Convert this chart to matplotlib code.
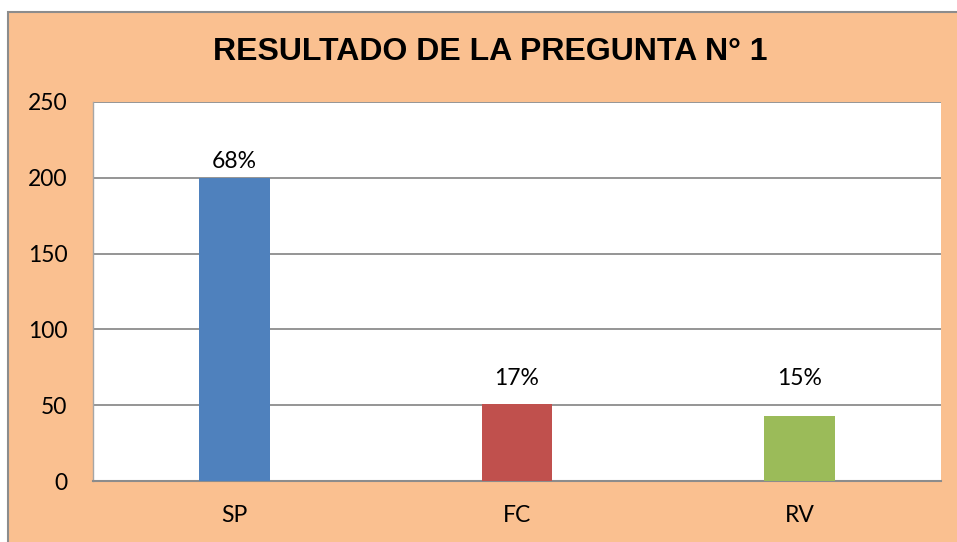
import matplotlib
matplotlib.use("Agg")
import matplotlib.pyplot as plt
from matplotlib.patches import Rectangle

categories = ["SP", "FC", "RV"]
values = [200, 51, 43]
labels = ["68%", "17%", "15%"]
colors = ["#4F81BD", "#C0504D", "#9BBB59"]
yticks = [0, 50, 100, 150, 200, 250]

W, H = 957, 542
fig = plt.figure(figsize=(W / 100, H / 100), dpi=100)
fig.patch.set_facecolor("white")

# chart area (peach) with gray border
fig.patches.append(Rectangle((8 / W, -0.05), 1.1, (H - 12) / H + 0.05,
                             transform=fig.transFigure, facecolor="#FAC090",
                             edgecolor="#8C8C8C", linewidth=1.5, zorder=-5))

ax = fig.add_axes([93 / W, 1 - 481 / H, (941 - 93) / W, (481 - 102) / H])
ax.set_zorder(2)
ax.set_facecolor("white")
x = range(len(categories))
ax.bar(x, values, width=0.25, color=colors, zorder=3)
for xi, v, lab in zip(x, values, labels):
    ax.text(xi, max(v, 57) + 4, lab, ha="center", va="bottom", fontsize=16.5,
            family="Lato", color="black")

ax.set_xlim(-0.5, 2.5)
ax.set_ylim(0, 250)
ax.set_yticks(yticks)
ax.set_xticks(list(x))
ax.set_xticklabels(categories)
ax.yaxis.grid(True, color="#8C8C8C", linewidth=1.3, zorder=1)
ax.set_axisbelow(True)
for s in ["top", "right"]:
    ax.spines[s].set_visible(False)
ax.spines["left"].set_color("#A6A6A6")
ax.spines["left"].set_linewidth(1.0)
ax.spines["bottom"].set_color("#8C8C8C")
ax.spines["bottom"].set_linewidth(1.5)
ax.tick_params(axis="both", length=0, labelsize=16.5)
ax.tick_params(axis="y", pad=18.5)
ax.tick_params(axis="x", pad=17)
for t in ax.get_xticklabels() + ax.get_yticklabels():
    t.set_family("Lato")

fig.text(490 / W, 1 - 52 / H, "RESULTADO DE LA PREGUNTA N° 1", ha="center",
         va="center", fontsize=23, fontweight="bold", family="Liberation Sans")

fig.savefig("out.png", dpi=100, facecolor=fig.get_facecolor())
